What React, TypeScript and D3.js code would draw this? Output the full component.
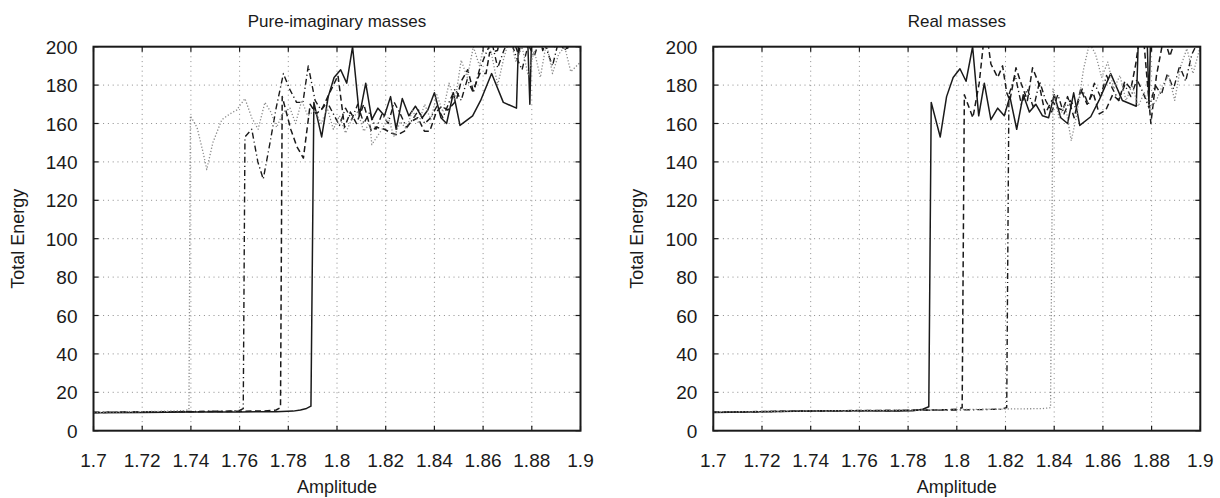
import React from 'react';
import * as d3 from 'd3';

type Pt = [number, number];

const xTickLabels = ['1.7', '1.72', '1.74', '1.76', '1.78', '1.8', '1.82', '1.84', '1.86', '1.88', '1.9'];
const yTickLabels = ['0', '20', '40', '60', '80', '100', '120', '140', '160', '180', '200'];
const panelTitles = ['Pure-imaginary masses', 'Real masses'];
const xLabel = 'Amplitude';
const yLabel = 'Total Energy';

// ---------- Pure-imaginary masses ----------
const pureSolid: Pt[] = [
  [1.70, 9.3], [1.72, 9.5], [1.74, 9.7], [1.76, 9.8], [1.775, 9.9], [1.782, 10.2], [1.785, 10.8],
  [1.7875, 11.6], [1.7893, 12.8], [1.7905, 171], [1.7937, 153], [1.7964, 174], [1.7988, 184],
  [1.8015, 188], [1.804, 181], [1.8064, 200], [1.8092, 164], [1.8118, 181], [1.8143, 162],
  [1.8168, 168], [1.8195, 164], [1.822, 174], [1.8243, 157], [1.8268, 173], [1.8295, 164],
  [1.8322, 169], [1.835, 163], [1.8373, 167], [1.84, 176], [1.8427, 163], [1.845, 160],
  [1.8478, 176], [1.8505, 159], [1.8557, 164], [1.859, 172], [1.8635, 186], [1.8683, 171],
  [1.8737, 168], [1.8752, 230], [1.8775, 235], [1.8792, 170], [1.8805, 235], [1.89, 240], [1.9, 240],
];
const pureDashed: Pt[] = [
  [1.70, 9.5], [1.72, 9.7], [1.74, 9.9], [1.76, 10.1], [1.77, 10.3], [1.775, 10.8], [1.7768, 12],
  [1.7775, 174], [1.781, 157], [1.7835, 148], [1.7862, 142], [1.789, 170], [1.7915, 165],
  [1.794, 168], [1.797, 176], [1.8004, 185], [1.8031, 158], [1.8055, 166], [1.808, 160],
  [1.811, 170], [1.8141, 156], [1.8162, 158], [1.8195, 157], [1.8223, 155], [1.8248, 154],
  [1.8277, 156], [1.8304, 161], [1.8332, 163], [1.8359, 156], [1.8381, 156], [1.8408, 166],
  [1.843, 169], [1.8455, 167], [1.849, 172], [1.851, 182], [1.8537, 188], [1.8559, 177],
  [1.8586, 186], [1.8612, 186], [1.8627, 197], [1.8659, 198], [1.869, 215], [1.872, 205],
  [1.8745, 196], [1.877, 210], [1.8795, 200], [1.882, 212], [1.8845, 198], [1.887, 208],
  [1.8895, 200], [1.892, 215], [1.8945, 198], [1.897, 210], [1.9, 202],
];
const pureDashDot: Pt[] = [
  [1.70, 9.6], [1.72, 9.8], [1.74, 10.0], [1.755, 10.2], [1.76, 10.6], [1.7615, 11.5],
  [1.7622, 153], [1.765, 157], [1.7675, 140], [1.7697, 131], [1.7725, 150], [1.775, 168],
  [1.778, 186], [1.7805, 178], [1.7834, 171], [1.786, 171], [1.7882, 190], [1.791, 172],
  [1.7935, 167], [1.796, 171], [1.7985, 165], [1.801, 159], [1.8035, 168], [1.806, 162],
  [1.8085, 170], [1.811, 160], [1.8135, 166], [1.816, 157], [1.8185, 165], [1.821, 160],
  [1.8235, 171], [1.826, 165], [1.8285, 158], [1.831, 162], [1.8335, 167], [1.836, 160],
  [1.8385, 163], [1.841, 169], [1.8435, 163], [1.846, 171], [1.8485, 178], [1.851, 172],
  [1.8535, 183], [1.856, 176], [1.8585, 188], [1.861, 196], [1.8635, 203], [1.866, 189],
  [1.8685, 198], [1.871, 205], [1.8735, 195], [1.876, 188], [1.8785, 201], [1.881, 195],
  [1.8835, 205], [1.886, 199], [1.8885, 190], [1.891, 203], [1.8935, 198], [1.896, 205], [1.9, 199],
];
const pureDotted: Pt[] = [
  [1.70, 9.5], [1.71, 9.7], [1.72, 9.9], [1.73, 10.2], [1.7375, 10.5], [1.7392, 11],
  [1.7398, 164], [1.7425, 158], [1.745, 145], [1.7465, 136], [1.749, 150], [1.7527, 162],
  [1.756, 165], [1.7588, 167], [1.7622, 173], [1.765, 163], [1.7676, 157], [1.7704, 171],
  [1.7728, 166], [1.7752, 158], [1.778, 166], [1.7807, 168], [1.783, 160], [1.7855, 172],
  [1.788, 164], [1.791, 167], [1.7935, 160], [1.796, 168], [1.7985, 157], [1.801, 164],
  [1.8035, 155], [1.806, 162], [1.8085, 166], [1.811, 156], [1.8135, 160], [1.8143, 149],
  [1.8185, 157], [1.821, 163], [1.8235, 153], [1.826, 161], [1.8285, 157], [1.831, 167],
  [1.8335, 160], [1.836, 170], [1.8385, 162], [1.841, 175], [1.8435, 166], [1.846, 181],
  [1.8485, 172], [1.851, 193], [1.8535, 184], [1.856, 200], [1.8585, 190], [1.861, 205],
  [1.8635, 196], [1.866, 180], [1.8685, 194], [1.871, 205], [1.8735, 192], [1.876, 200],
  [1.8785, 185], [1.881, 198], [1.8835, 184], [1.886, 202], [1.8885, 186], [1.891, 196],
  [1.8935, 200], [1.896, 187], [1.9, 192],
];

// ---------- Real masses ----------
const realSolid: Pt[] = [
  [1.70, 9.5], [1.72, 9.9], [1.74, 10.2], [1.76, 10.4], [1.775, 10.3], [1.782, 10.4], [1.786, 11.2],
  [1.7885, 12.5], [1.7895, 171], [1.7932, 153], [1.7958, 174], [1.7985, 184], [1.8013, 188.5],
  [1.8038, 182], [1.8065, 200], [1.809, 164], [1.8113, 181], [1.814, 162], [1.8168, 168],
  [1.8195, 164], [1.8218, 174], [1.8246, 157], [1.8273, 175], [1.8298, 166], [1.8325, 170],
  [1.8352, 164], [1.8377, 163], [1.84, 175], [1.8427, 163], [1.8455, 160], [1.848, 176],
  [1.8505, 159], [1.855, 163.5], [1.8584, 172], [1.8632, 186], [1.868, 172], [1.8737, 169],
  [1.8752, 230], [1.8775, 235], [1.8789, 170], [1.8802, 235], [1.89, 240], [1.9, 240],
];
const realDashed: Pt[] = [
  [1.70, 9.6], [1.72, 10.0], [1.74, 10.3], [1.76, 10.5], [1.78, 10.6], [1.79, 10.8], [1.795, 10.9],
  [1.80, 11.2], [1.8022, 12], [1.8031, 175], [1.8066, 163], [1.8092, 181], [1.8108, 200],
  [1.8125, 205], [1.814, 191], [1.8168, 184], [1.8188, 190], [1.8205, 176], [1.8218, 172],
  [1.8243, 189], [1.8264, 181], [1.829, 172], [1.8311, 189], [1.8339, 180], [1.8363, 165],
  [1.839, 172], [1.8415, 168], [1.8435, 167], [1.8455, 174], [1.8482, 163], [1.8509, 178],
  [1.8535, 170], [1.856, 176], [1.8585, 165], [1.8612, 167], [1.864, 175], [1.8665, 172],
  [1.869, 182], [1.8715, 178], [1.8735, 191], [1.875, 205], [1.877, 200], [1.8797, 160],
  [1.882, 185], [1.885, 205], [1.8875, 195], [1.89, 205], [1.9, 205],
];
const realDashDot: Pt[] = [
  [1.70, 9.6], [1.74, 10.2], [1.78, 10.6], [1.80, 10.8], [1.81, 11.0], [1.818, 11.2], [1.8205, 12],
  [1.8214, 175], [1.824, 185], [1.8265, 170], [1.829, 178], [1.8315, 168], [1.834, 182],
  [1.8365, 172], [1.839, 166], [1.8415, 175], [1.844, 165], [1.8465, 172], [1.849, 168],
  [1.8515, 178], [1.854, 170], [1.8565, 181], [1.859, 174], [1.8615, 185], [1.864, 178],
  [1.8665, 172], [1.869, 180], [1.8715, 174], [1.874, 183], [1.8765, 176], [1.879, 168],
  [1.8815, 180], [1.884, 175], [1.8865, 186], [1.889, 178], [1.8915, 190], [1.894, 182],
  [1.8965, 196], [1.9, 205],
];
const realDotted: Pt[] = [
  [1.70, 9.7], [1.74, 10.3], [1.78, 10.7], [1.80, 11.0], [1.82, 11.3], [1.835, 11.5], [1.8385, 12],
  [1.8395, 178], [1.842, 163], [1.8445, 170], [1.847, 151], [1.8495, 166], [1.852, 188],
  [1.8545, 202], [1.857, 196], [1.8595, 184], [1.862, 192], [1.8645, 178], [1.867, 185],
  [1.8695, 172], [1.872, 180], [1.8745, 169], [1.877, 176], [1.8795, 168], [1.882, 172],
  [1.8845, 180], [1.887, 185], [1.8895, 172], [1.892, 190], [1.8945, 199], [1.897, 186], [1.9, 200],
];

const FONT = "'Liberation Sans', Arial, Helvetica, sans-serif";

const styles = [
  { stroke: '#1a1a1a', dash: undefined as string | undefined, width: 1.5 },
  { stroke: '#1a1a1a', dash: '6 3.5', width: 1.5 },
  { stroke: '#1a1a1a', dash: '6 3 1.2 3', width: 1.4 },
  { stroke: '#888888', dash: '1.2 2', width: 1.3 },
];

function Panel({ idx, left, right, title, series }: { idx: number; left: number; right: number; title: string; series: Pt[][] }) {
  const top = 46.7;
  const bottom = 430.7;
  const xTicks = xTickLabels.map(Number);
  const yTicks = yTickLabels.map(Number);
  const x = d3.scaleLinear().domain([1.7, 1.9]).range([left, right]);
  const y = d3.scaleLinear().domain([0, 200]).range([bottom, top]);
  const line = d3.line<Pt>().x((d) => x(d[0])).y((d) => y(d[1]));
  const clipId = `clip-${idx}`;
  const tickLen = 5;
  const midX = (left + right) / 2;
  const midY = (top + bottom) / 2;
  return (
    <g>
      <defs>
        <clipPath id={clipId}>
          <rect x={left} y={top} width={right - left} height={bottom - top} />
        </clipPath>
      </defs>
      {xTicks.slice(1, -1).map((t) => (
        <line key={'gx' + t} x1={x(t)} x2={x(t)} y1={top} y2={bottom} stroke="#8c8c8c" strokeWidth={1} strokeDasharray="1 3.8" />
      ))}
      {yTicks.slice(1, -1).map((t) => (
        <line key={'gy' + t} x1={left} x2={right} y1={y(t)} y2={y(t)} stroke="#8c8c8c" strokeWidth={1} strokeDasharray="1 3.8" />
      ))}
      <g clipPath={`url(#${clipId})`}>
        {series.map((s, i) => (
          <path key={i} d={line(s) || ''} fill="none" stroke={styles[i].stroke} strokeWidth={styles[i].width}
            strokeDasharray={styles[i].dash} strokeLinejoin="round" />
        ))}
      </g>
      {xTicks.map((t) => (
        <g key={'tx' + t}>
          <line x1={x(t)} x2={x(t)} y1={bottom} y2={bottom - tickLen} stroke="#1a1a1a" strokeWidth={1.2} />
          <line x1={x(t)} x2={x(t)} y1={top} y2={top + tickLen} stroke="#1a1a1a" strokeWidth={1.2} />
        </g>
      ))}
      {yTicks.map((t) => (
        <g key={'ty' + t}>
          <line x1={left} x2={left + tickLen} y1={y(t)} y2={y(t)} stroke="#1a1a1a" strokeWidth={1.2} />
          <line x1={right} x2={right - tickLen} y1={y(t)} y2={y(t)} stroke="#1a1a1a" strokeWidth={1.2} />
        </g>
      ))}
      <rect x={left} y={top} width={right - left} height={bottom - top} fill="none" stroke="#1a1a1a" strokeWidth={2} />
      {xTickLabels.map((lab, i) => (
        <text key={'lx' + lab} x={x(xTicks[i])} y={467} textAnchor="middle" fontFamily={FONT} fontSize={19} fill="#1a1a1a">{lab}</text>
      ))}
      {yTickLabels.map((lab, i) => (
        <text key={'ly' + lab} x={left - 16} y={y(yTicks[i]) + 7} textAnchor="end" fontFamily={FONT} fontSize={19} fill="#1a1a1a">{lab}</text>
      ))}
      <text x={midX} y={27} textAnchor="middle" fontFamily={FONT} fontSize={17} fill="#1a1a1a">{title}</text>
      <text x={midX} y={493} textAnchor="middle" fontFamily={FONT} fontSize={18} fill="#1a1a1a">{xLabel}</text>
      <text transform={`translate(${left - 70},${midY}) rotate(-90)`} textAnchor="middle" fontFamily={FONT} fontSize={18} fill="#1a1a1a">{yLabel}</text>
    </g>
  );
}

export default function App() {
  return (
    <svg width={1220} height={498} viewBox="0 0 1220 498"
      style={{ position: 'absolute', left: 0, top: 0, display: 'block', background: '#fff' }}>
      <rect x={0} y={0} width={1220} height={498} fill="#fff" />
      <Panel idx={0} left={93.5} right={580.5} title={panelTitles[0]} series={[pureSolid, pureDashed, pureDashDot, pureDotted]} />
      <Panel idx={1} left={713.3} right={1200.3} title={panelTitles[1]} series={[realSolid, realDashed, realDashDot, realDotted]} />
    </svg>
  );
}
